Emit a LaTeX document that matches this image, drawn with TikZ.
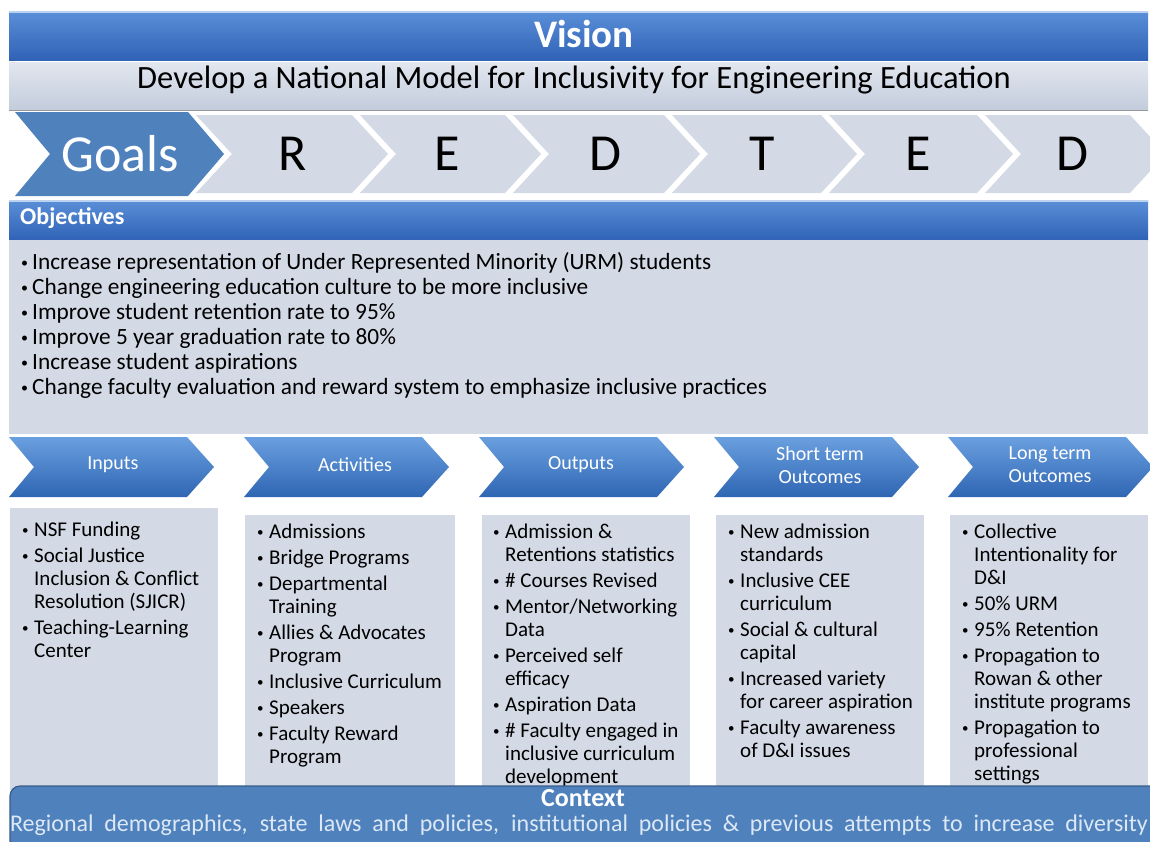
\documentclass[tikz,border=0pt]{standalone}
\usepackage{fontspec}
\setmainfont{Carlito}
\definecolor{visA}{HTML}{5A8FD8}
\definecolor{visB}{HTML}{3063B6}
\definecolor{lightbar}{HTML}{D5DCE8}
\definecolor{lightbarB}{HTML}{C3CCDC}
\definecolor{goalblue}{HTML}{4F81BD}
\definecolor{chev}{HTML}{D3DAE6}
\definecolor{boxfill}{HTML}{D3D9E5}
\definecolor{ctx}{HTML}{4F81BD}
\definecolor{ctxline}{HTML}{385D8A}
\definecolor{ctxtext}{HTML}{DCE8F5}
\definecolor{chA}{HTML}{6A9FDF}
\definecolor{chB}{HTML}{2F66B3}
\newcommand{\smallbul}{\raisebox{1.6pt}{\fontsize{13}{13}\selectfont •}}
\newcommand{\bl}[1]{\makebox[12pt][l]{\smallbul}#1}
\newcommand{\cl}[1]{\hspace*{12pt}#1}
\newcommand{\ob}[1]{\makebox[11pt][l]{\raisebox{1.8pt}{\fontsize{14}{14}\selectfont •}}#1}
\tikzset{
  bluebar/.style={top color=visA,bottom color=visB,draw=none},
  lowchev/.style={top color=chA,bottom color=chB,draw=none},
  boxtext/.style={anchor=north west,align=left,inner sep=0pt,font=\fontsize{21}{23}\selectfont},
  chevlabel/.style={align=center,inner sep=0pt,text=white,font=\fontsize{20}{23}\selectfont},
  goalletter/.style={inner sep=0pt,font=\fontsize{52}{52}\selectfont},
}
\begin{document}
\begin{tikzpicture}[x=1pt,y=-1pt]
\useasboundingbox[fill=white] (0,0) rectangle (1150,841);
% Vision
\path[bluebar] (9,11) rectangle (1148,60);
\draw[white!60!visA,line width=1.5pt] (9,12) -- (1148,12);
\node[text=white,font=\fontsize{39}{39}\selectfont\bfseries,inner sep=0pt] (vision) at (584,34) {Vision};
% Develop bar
\path[top color=lightbar!70!white,bottom color=lightbarB,draw=none] (9,62) rectangle (1148,110);
\draw[black!40] (9,110) -- (1148,110);
\node[font=\fontsize{32.5}{32.5}\selectfont,inner sep=0pt] (dev) at (574,80) {Develop a National Model for Inclusivity for Engineering Education};
% Goals row
\fill[goalblue] (15,112) -- (188,112) -- (224,154) -- (188,196) -- (15,196) -- (50,154) -- cycle;
\node[goalletter,text=white] (goals) at (120,154) {Goals};
\foreach \p/\t/\c/\L [count=\i] in {224/388/293/R, 388/541/447/E, 541/700/605/D, 700/857/762/T, 857/1013/918/E, 1013/1166/1072/D} {
  \fill[chev] (\p-28,115) -- (\t-36,115) -- (\t,154) -- (\t-36,193) -- (\p-28,193) -- (\p+8,154) -- cycle;
  \node[goalletter] (let\i) at (\c,154) {\L};
}
% Objectives
\path[bluebar] (9,200) rectangle (1148,240);
\draw[white!60!visA,line width=1.5pt] (9,201) -- (1148,201);
\node[anchor=west,text=white,font=\fontsize{24}{24}\selectfont\bfseries,inner sep=0pt] (objh) at (20,218) {Objectives};
\path[fill=boxfill] (9,240) rectangle (1148,434);
\node[anchor=north west,align=left,inner sep=0pt,font=\fontsize{23.3}{25}\selectfont] (objt) at (21,252) {%
\rule{0pt}{17pt}\ob{Increase representation of Under Represented Minority (URM) students}\\
\ob{Change engineering education culture to be more inclusive}\\
\ob{Improve student retention rate to 95\%}\\
\ob{Improve 5 year graduation rate to 80\%}\\
\ob{Increase student aspirations}\\
\ob{Change faculty evaluation and reward system to emphasize inclusive practices}};
% Lower chevrons
\foreach \L/\c/\lab [count=\i] in {9/113/Inputs, 244/355/Activities, 479/581/Outputs, 714/820/{Short term\\Outcomes}, 948/1050/{Long term\\Outcomes}} {
  \path[lowchev] (\L,437) -- (\L+178,437) -- (\L+205,467) -- (\L+178,497) -- (\L,497) -- (\L+25,467) -- cycle;
  \node[chevlabel] (ch\i) at (\c,465) {\lab};
}
% Boxes
\fill[boxfill] (10,508) rectangle (218,790);
\fill[boxfill] (245,515) rectangle (455,790);
\fill[boxfill] (482,515) rectangle (690,790);
\fill[boxfill] (716,515) rectangle (924,790);
\fill[boxfill] (950,515) rectangle (1148,790);
\node[boxtext] (tin) at (22,521) {%
\rule{0pt}{15pt}\bl{NSF Funding}\\[3pt]
\bl{Social Justice}\\
\cl{Inclusion \& Conflict}\\
\cl{Resolution (SJICR)}\\[3pt]
\bl{Teaching-Learning}\\
\cl{Center}};
\node[boxtext] (tact) at (257,523) {%
\rule{0pt}{15pt}\bl{Admissions}\\[3pt]
\bl{Bridge Programs}\\[3pt]
\bl{Departmental}\\
\cl{Training}\\[3pt]
\bl{Allies \& Advocates}\\
\cl{Program}\\[3pt]
\bl{Inclusive Curriculum}\\[3pt]
\bl{Speakers}\\[3pt]
\bl{Faculty Reward}\\
\cl{Program}};
\node[boxtext] (tout) at (493,523) {%
\rule{0pt}{15pt}\bl{Admission \&}\\
\cl{Retentions statistics}\\[3pt]
\bl{\# Courses Revised}\\[3pt]
\bl{Mentor/Networking}\\
\cl{Data}\\[3pt]
\bl{Perceived self}\\
\cl{efficacy}\\[3pt]
\bl{Aspiration Data}\\[3pt]
\bl{\# Faculty engaged in}\\
\cl{inclusive curriculum}\\
\cl{development}};
\node[boxtext] (tst) at (728,523) {%
\rule{0pt}{15pt}\bl{New admission}\\
\cl{standards}\\[3pt]
\bl{Inclusive CEE}\\
\cl{curriculum}\\[3pt]
\bl{Social \& cultural}\\
\cl{capital}\\[3pt]
\bl{Increased variety}\\
\cl{for career aspiration}\\[3pt]
\bl{Faculty awareness}\\
\cl{of D\&I issues}};
\node[boxtext] (tlt) at (962,523) {%
\rule{0pt}{15pt}\bl{Collective}\\
\cl{Intentionality for}\\
\cl{D\&I}\\[3pt]
\bl{50\% URM}\\[3pt]
\bl{95\% Retention}\\[3pt]
\bl{Propagation to}\\
\cl{Rowan \& other}\\
\cl{institute programs}\\[3pt]
\bl{Propagation to}\\
\cl{professional}\\
\cl{settings}};
% Context
\begin{scope}
\clip (0,0) rectangle (1150,841);
\draw[fill=ctx,draw=ctxline,line width=1.2pt,rounded corners=10pt] (10,786) rectangle (1165,870);
\end{scope}
\node[text=white,font=\fontsize{26}{26}\selectfont\bfseries,inner sep=0pt] (ctxh) at (583,798) {Context};
\node[text=ctxtext,font=\fontsize{24}{24}\selectfont,inner sep=0pt] (ctxt) at (579,825) {\makebox[1138pt][s]{Regional demographics, state laws and policies, institutional policies \& previous attempts to increase diversity}};
\end{tikzpicture}
\end{document}
